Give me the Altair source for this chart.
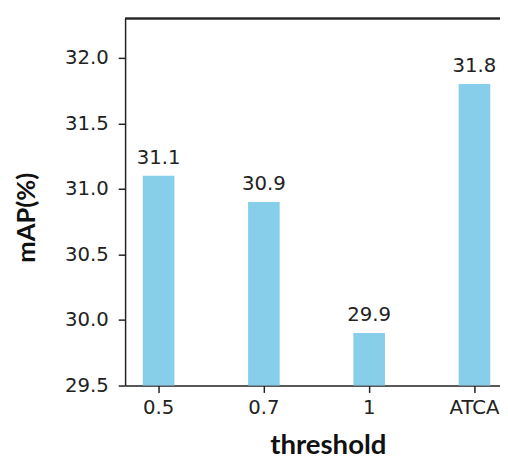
import altair as alt
import pandas as pd

categories = ["0.5", "0.7", "1", "ATCA"]
values = [31.1, 30.9, 29.9, 31.8]
y_ticks = [29.5, 30.0, 30.5, 31.0, 31.5, 32.0]

df = pd.DataFrame({"threshold": categories, "mAP": values})

axis_common = dict(
    labelFont="DejaVu Sans",
    labelFontSize=20,
    labelColor="#222222",
    tickSize=7,
    tickColor="#222222",
    tickWidth=1.5,
    domainColor="#222222",
    domainWidth=1.5,
    titleFont="Lato",
    titleFontWeight="bold",
    titleColor="#111111",
)

x = alt.X(
    "threshold:N",
    sort=categories,
    title="threshold",
    scale=alt.Scale(paddingInner=0.7, paddingOuter=0.1304, align=0.645),
    axis=alt.Axis(
        labelAngle=0,
        labelPadding=5,
        titleX=206,
        titleY=69,
        titleFontSize=28,
        titleAlign="center",
        titleBaseline="alphabetic",
        **axis_common,
    ),
)
y = alt.Y(
    "mAP:Q",
    title="mAP(%)",
    scale=alt.Scale(domain=[29.5, 32.3], zero=False, nice=False),
    axis=alt.Axis(
        values=y_ticks,
        format=".1f",
        grid=False,
        labelPadding=10,
        titleX=-100,
        titleY=202,
        titleFontSize=26,
        titleAngle=-90,
        titleAlign="center",
        titleBaseline="middle",
        **axis_common,
    ),
)

base = alt.Chart(df)
bars = base.mark_bar(color="#87CEEB").encode(x=x, y=y, y2=alt.datum(29.5))
labels = base.mark_text(
    font="DejaVu Sans", fontSize=20, color="#222222", baseline="bottom", dy=-8
).encode(x=x, y=y, text=alt.Text("mAP:Q", format=".1f"))
top = alt.Chart(df).mark_rule(color="#222222", strokeWidth=1.5).encode(y=alt.value(0))

chart = (
    alt.layer(bars, labels, top)
    .properties(
        width=381,
        height=373,
        autosize=alt.AutoSizeParams(type="none"),
        padding={"left": 119, "top": 7, "right": 0, "bottom": 74},
    )
    .configure_view(stroke=None)
)

chart.save("out.html", embed_options={"renderer": "svg", "actions": False})
